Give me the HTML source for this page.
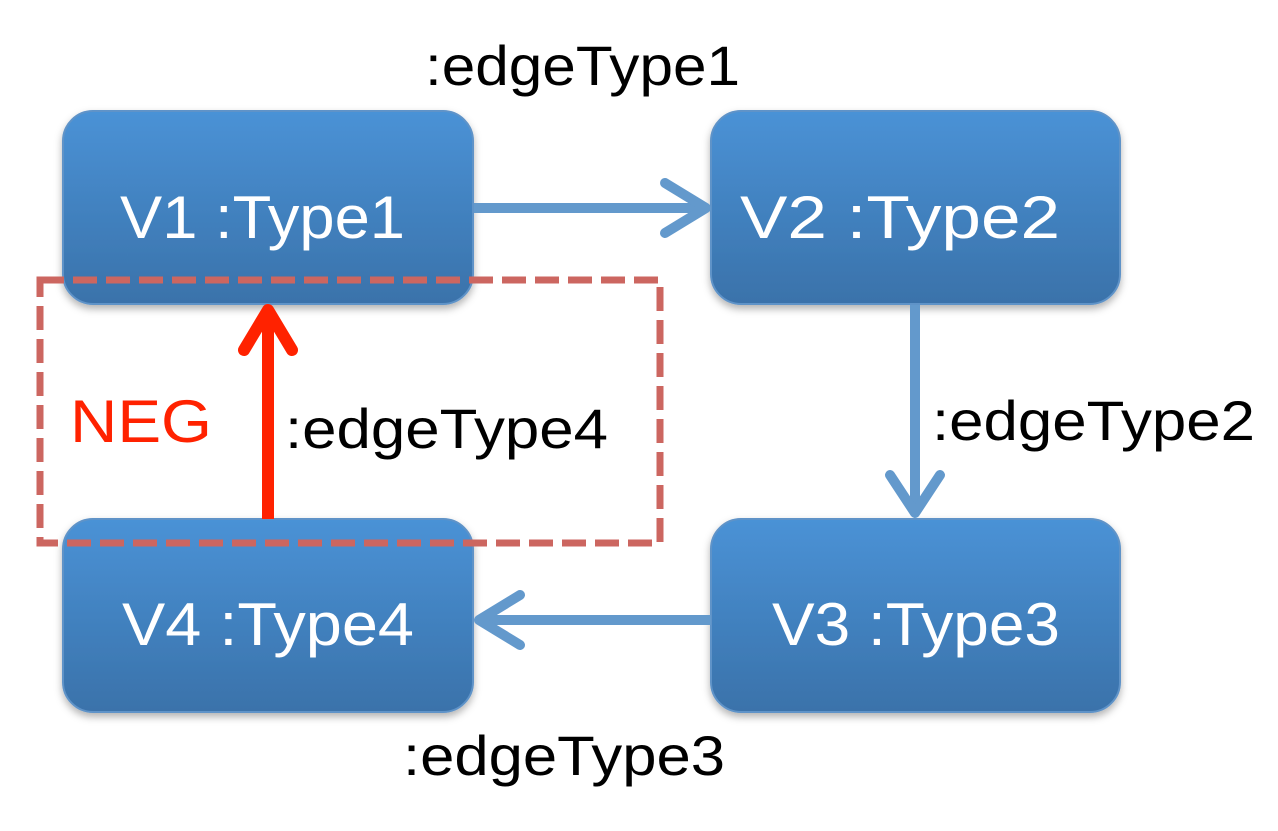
<!DOCTYPE html>
<html><head><style>
html,body{margin:0;padding:0;background:#fff;}
svg{display:block;}
.lbl{font-family:"Liberation Sans",sans-serif;font-size:56px;fill:#000;}
.box{font-family:"Liberation Sans",sans-serif;font-size:60px;fill:#fff;}
</style></head><body>
<svg width="1278" height="831" viewBox="0 0 1278 831" xmlns="http://www.w3.org/2000/svg">
<defs>
<linearGradient id="g" x1="0" y1="0" x2="0" y2="1">
<stop offset="0" stop-color="#4a92d6"/><stop offset="1" stop-color="#3a72aa"/>
</linearGradient>
<filter id="sh" x="-10%" y="-10%" width="120%" height="130%"><feDropShadow dx="0" dy="4" stdDeviation="4" flood-color="#000" flood-opacity="0.3"/></filter>
</defs>
<g filter="url(#sh)" stroke="#5e93c8" stroke-width="2" fill="url(#g)">
<rect x="63" y="111" width="410" height="193" rx="30"/>
<rect x="711" y="111" width="409" height="193" rx="30"/>
<rect x="63" y="519" width="410" height="193" rx="30"/>
<rect x="711" y="519" width="409" height="193" rx="30"/>
</g>
<text class="box" x="120" y="238" textLength="285" lengthAdjust="spacingAndGlyphs">V1 :Type1</text>
<text class="box" x="740" y="238" textLength="320" lengthAdjust="spacingAndGlyphs">V2 :Type2</text>
<text class="box" x="122" y="645" textLength="292" lengthAdjust="spacingAndGlyphs">V4 :Type4</text>
<text class="box" x="772" y="645" textLength="288" lengthAdjust="spacingAndGlyphs">V3 :Type3</text>
<g stroke="#6399cc" stroke-width="10" fill="none" stroke-linecap="round" stroke-linejoin="round">
<line x1="474" y1="208" x2="706" y2="208" stroke-linecap="butt"/>
<polyline points="665,183 706,208 665,233"/>
<line x1="915" y1="305" x2="915" y2="513" stroke-linecap="butt"/>
<polyline points="890,475 915,513 940,475"/>
<line x1="711" y1="620" x2="479" y2="620" stroke-linecap="butt"/>
<polyline points="520,595 479,620 520,645"/>
</g>
<rect x="40" y="280" width="620" height="263" fill="none" stroke="#cc6660" stroke-width="7" stroke-dasharray="24 9"/>
<g stroke="#ff2200" stroke-width="12" fill="none" stroke-linecap="round" stroke-linejoin="round">
<line x1="268" y1="519" x2="268" y2="312" stroke-linecap="butt"/>
<polyline points="244,350 268,310 292,350"/>
</g>
<text class="lbl" x="425" y="85" textLength="315" lengthAdjust="spacingAndGlyphs">:edgeType1</text>
<text class="lbl" x="932" y="440" textLength="323" lengthAdjust="spacingAndGlyphs">:edgeType2</text>
<text class="lbl" x="403" y="775" textLength="322" lengthAdjust="spacingAndGlyphs">:edgeType3</text>
<text class="lbl" x="285" y="448" textLength="323" lengthAdjust="spacingAndGlyphs">:edgeType4</text>
<text class="lbl" x="70" y="442" textLength="142" lengthAdjust="spacingAndGlyphs" style="fill:#ff2200;font-size:60px">NEG</text>
</svg>
</body></html>
